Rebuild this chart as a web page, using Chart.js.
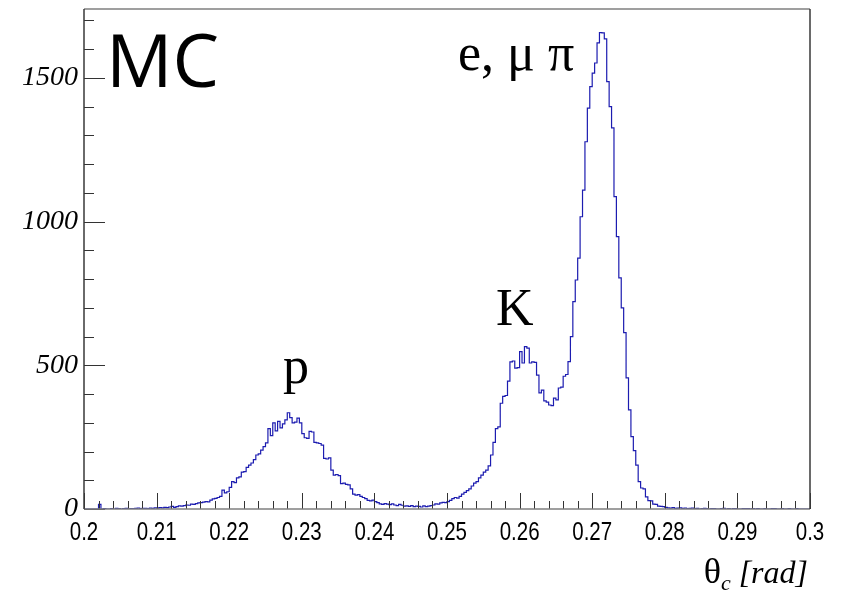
<!DOCTYPE html>
<html lang="en">
<head>
  <meta charset="UTF-8" />
  <title>Cherenkov angle (MC)</title>
  <script src="https://cdn.jsdelivr.net/npm/chart.js"></script>
  <style>
    body {
      margin: 0;
      background: #fff;
    }
    #wrap {
      width: 847px;
      height: 591px;
      position: relative;
    }
  </style>
</head>
<body>

  <div id="wrap"><canvas id="thetaHist"></canvas></div>

  <script>
    // histogram binning: 300 bins between 0.2 and 0.3 rad
    const binLow = 0.2;
    const binHigh = 0.3;

    // entries per bin
    const counts = [
      0, 0, 0, 0, 0, 0,
      16,
      0, 1, 0, 0, 1, 0, 2, 1, 0, 1, 2, 0, 1, 1, 2, 3, 1, 2, 2, 1, 3, 2, 4,
      3, 5, 4, 6, 5, 7, 9, 6, 8, 11, 10, 12,
      14, 13, 17, 16, 19, 21,
      22, 24, 26, 25, 31, 35,
      37, 40, 44, 66, 56, 60,
      75, 95, 92, 108, 112, 128,
      130, 145, 153, 160, 172, 188,
      192, 205, 217, 230, 280, 255,
      300, 272, 305, 282, 296, 310,
      335, 318, 300, 302, 316, 300,
      262, 248, 246, 270, 268, 232,
      230, 228, 222, 176, 174, 178,
      135, 118, 120, 116, 88, 90,
      86, 84, 70, 52, 48, 50,
      44, 40, 36, 30, 28, 31,
      26, 22, 18, 16, 19, 17,
      15, 18, 14, 12, 16, 13,
      10, 11, 9, 12, 8, 10,
      9, 7, 11, 8, 10, 12,
      14, 18, 17, 21, 23, 22,
      26, 30, 36, 40, 38, 44,
      52, 58, 64, 70, 80, 90,
      95, 108, 118, 128, 135, 150,
      188, 232, 280, 286, 368, 392,
      395, 445, 512, 515, 490, 492,
      548, 508, 565, 560, 508, 512,
      510, 466, 404, 414, 376, 372,
      362, 360, 386, 380, 421, 424,
      462, 468, 513, 600, 722, 797,
      873, 1017, 1110, 1278, 1395, 1470,
      1517, 1552, 1622, 1658, 1657, 1636,
      1487, 1400, 1326, 1087, 948, 804,
      700, 614, 456, 345, 252, 203,
      153, 95, 73, 70, 42, 29,
      28, 17, 16, 10, 9, 8,
      6, 4, 3, 5, 2, 3, 4, 2, 3, 1,
      2, 3, 1, 2, 0, 1, 2, 1, 0, 1,
      1, 0, 0, 1, 2, 0, 1, 0, 1, 1,
      0, 0, 1, 1, 1, 0, 1, 0, 1, 0,
      0, 1, 0, 0, 1, 1, 0, 0, 1, 0,
      0, 1, 0, 0, 1, 0, 0, 0, 0, 0
    ];

    const xTicks = [0.2, 0.21, 0.22, 0.23, 0.24, 0.25, 0.26, 0.27, 0.28, 0.29, 0.3];
    const xTickLabels = ['0.2', '0.21', '0.22', '0.23', '0.24', '0.25', '0.26', '0.27', '0.28', '0.29', '0.3'];
    const yTicks = [0, 500, 1000, 1500];
    const yTickLabels = ['0', '500', '1000', '1500'];
    const yMax = 1740;

    // left edge of every bin, plus closing point at the upper edge
    const binWidth = (binHigh - binLow) / counts.length;
    const points = counts.map((c, i) => ({ x: binLow + i * binWidth, y: c }));
    points.push({ x: binHigh, y: counts[counts.length - 1] });

    // ROOT-like frame with ticks pointing inwards, narrow x labels and the text labels
    const rootFrame = {
      id: 'rootFrame',
      afterDatasetsDraw(chart) {
        const { ctx, chartArea: a, scales } = chart;
        const xs = scales.x, ys = scales.y;
        ctx.save();

        ctx.strokeStyle = '#333';
        ctx.lineWidth = 1;
        ctx.beginPath();
        // x minor ticks every 0.002, major every 0.01
        for (let k = 0; k <= 50; k++) {
          const px = Math.round(xs.getPixelForValue(binLow + k * 0.002)) + 0.5;
          const len = (k % 5 === 0) ? 16 : 8;
          ctx.moveTo(px, a.bottom);
          ctx.lineTo(px, a.bottom - len);
        }
        // y minor ticks every 100, major every 500
        for (let v = 0; v <= 1700; v += 100) {
          const py = Math.round(ys.getPixelForValue(v)) + 0.5;
          const len = (v % 500 === 0) ? 21 : 10;
          ctx.moveTo(a.left, py);
          ctx.lineTo(a.left + len, py);
        }
        ctx.stroke();

        // frame
        ctx.lineWidth = 1.5;
        ctx.strokeStyle = '#808080';
        ctx.beginPath();
        ctx.moveTo(a.left, a.top);
        ctx.lineTo(a.right, a.top);
        ctx.moveTo(a.left, a.bottom);
        ctx.lineTo(a.right, a.bottom);
        ctx.stroke();
        ctx.strokeStyle = '#3a3a3a';
        ctx.beginPath();
        ctx.moveTo(a.left, a.top);
        ctx.lineTo(a.left, a.bottom);
        ctx.moveTo(a.right, a.top);
        ctx.lineTo(a.right, a.bottom);
        ctx.stroke();

        ctx.fillStyle = '#000';

        // x tick labels, condensed sans
        ctx.font = '25px "Liberation Sans"';
        ctx.textAlign = 'center';
        ctx.textBaseline = 'alphabetic';
        xTicks.forEach((v, i) => {
          const px = xs.getPixelForValue(v);
          ctx.save();
          ctx.translate(px, a.bottom + 31);
          ctx.scale(0.82, 1);
          ctx.fillText(xTickLabels[i], 0, 0);
          ctx.restore();
        });

        // labels
        ctx.textAlign = 'left';
        ctx.font = '74px "Open Sans"';
        ctx.fillText('MC', 106, 87);

        ctx.font = '52px "Liberation Serif"';
        ctx.fillText('e, μ π', 458, 70);
        ctx.fillText('K', 496, 325);
        ctx.fillText('p', 283, 383);

        // axis title: theta_c [rad], right aligned to the frame
        const big = '36px "Liberation Serif"';
        const sub = 'italic 22px "Liberation Serif"';
        const it = 'italic 32px "Liberation Serif"';
        ctx.font = big;
        const wTheta = ctx.measureText('θ').width;
        ctx.font = sub;
        const wSub = ctx.measureText('c').width;
        ctx.font = it;
        const wRad = ctx.measureText(' [rad]').width;
        let tx = a.right - 2 - (wTheta + wSub + wRad);
        ctx.font = big;
        ctx.fillText('θ', tx, 583);
        tx += wTheta;
        ctx.font = sub;
        ctx.fillText('c', tx, 590);
        tx += wSub;
        ctx.font = it;
        ctx.fillText(' [rad]', tx, 583);

        ctx.restore();
      }
    };

    new Chart(document.getElementById('thetaHist'), {
      type: 'line',
      data: {
        datasets: [{
          data: points,
          stepped: 'before',
          borderColor: '#1c1cb0',
          borderWidth: 1.2,
          pointRadius: 0,
          fill: false
        }]
      },
      options: {
        responsive: true,
        maintainAspectRatio: false,
        animation: false,
        layout: { padding: { top: 9, right: 37, left: 0, bottom: 0 } },
        plugins: {
          legend: { display: false },
          tooltip: { enabled: false }
        },
        scales: {
          x: {
            type: 'linear',
            min: binLow,
            max: binHigh,
            afterFit: s => {
              s.height = 82;
              s.paddingLeft = 0;
              s.paddingRight = 0;
            },
            afterBuildTicks: s => { s.ticks = xTicks.map(v => ({ value: v })); },
            grid: { display: false, drawTicks: false },
            border: { display: false },
            ticks: { display: false }
          },
          y: {
            min: 0,
            max: yMax,
            afterFit: s => {
              s.width = 84;
              s.paddingTop = 0;
              s.paddingBottom = 0;
            },
            afterBuildTicks: s => { s.ticks = yTicks.map(v => ({ value: v })); },
            grid: { display: false, drawTicks: false },
            border: { display: false },
            ticks: {
              padding: 6,
              color: '#000',
              autoSkip: false,
              font: { family: '"Liberation Serif", serif', style: 'italic', size: 28 },
              callback: (v, i) => yTickLabels[i]
            }
          }
        }
      },
      plugins: [rootFrame]
    });
  </script>

</body>
</html>
